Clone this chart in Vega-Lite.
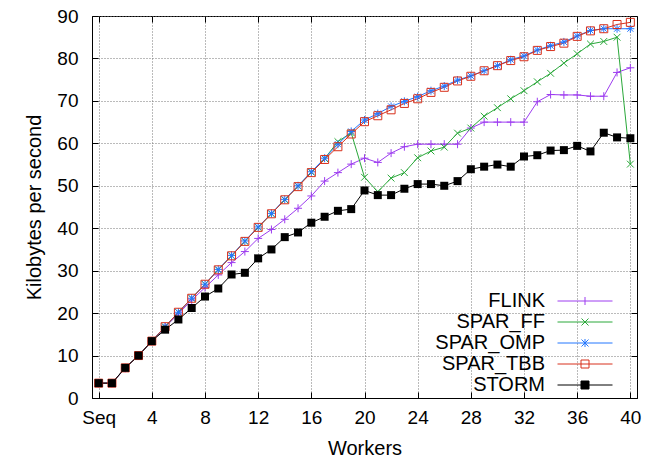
{
  "$schema": "https://vega.github.io/schema/vega-lite/v6.json",
  "width": 545,
  "height": 382,
  "autosize": "none",
  "padding": {"left": 92, "top": 16, "right": 15, "bottom": 63},
  "background": "white",
  "config": {
    "font": "Liberation Sans",
    "view": {"stroke": "black", "strokeWidth": 1},
    "axis": {
      "domainColor": "black", "tickColor": "black", "labelColor": "black", "titleColor": "black",
      "gridColor": "#777", "gridDash": [1, 2], "gridOpacity": 1, "gridWidth": 1,
      "labelFontSize": 19, "titleFontSize": 20, "titleFontWeight": "normal",
      "labelFont": "Liberation Sans", "titleFont": "Liberation Sans", "tickSize": -6
    }
  },
  "data": {"values": [
    {"w":0,"s":"FLINK","v":3.5},{"w":1,"s":"FLINK","v":3.5},{"w":2,"s":"FLINK","v":7.0},{"w":3,"s":"FLINK","v":10.0},{"w":4,"s":"FLINK","v":13.4},{"w":5,"s":"FLINK","v":16.7},{"w":6,"s":"FLINK","v":19.8},{"w":7,"s":"FLINK","v":23.1},{"w":8,"s":"FLINK","v":26.0},{"w":9,"s":"FLINK","v":29.0},{"w":10,"s":"FLINK","v":31.9},{"w":11,"s":"FLINK","v":34.5},{"w":12,"s":"FLINK","v":37.6},{"w":13,"s":"FLINK","v":39.7},{"w":14,"s":"FLINK","v":42.1},{"w":15,"s":"FLINK","v":44.7},{"w":16,"s":"FLINK","v":47.6},{"w":17,"s":"FLINK","v":51.1},{"w":18,"s":"FLINK","v":53.1},{"w":19,"s":"FLINK","v":55.1},{"w":20,"s":"FLINK","v":56.5},{"w":21,"s":"FLINK","v":55.5},{"w":22,"s":"FLINK","v":57.7},{"w":23,"s":"FLINK","v":59.2},{"w":24,"s":"FLINK","v":59.8},{"w":25,"s":"FLINK","v":59.8},{"w":26,"s":"FLINK","v":59.8},{"w":27,"s":"FLINK","v":59.8},{"w":28,"s":"FLINK","v":63.6},{"w":29,"s":"FLINK","v":65.0},{"w":30,"s":"FLINK","v":65.0},{"w":31,"s":"FLINK","v":65.0},{"w":32,"s":"FLINK","v":65.0},{"w":33,"s":"FLINK","v":69.8},{"w":34,"s":"FLINK","v":71.5},{"w":35,"s":"FLINK","v":71.4},{"w":36,"s":"FLINK","v":71.4},{"w":37,"s":"FLINK","v":71.1},{"w":38,"s":"FLINK","v":71.1},{"w":39,"s":"FLINK","v":76.7},{"w":40,"s":"FLINK","v":77.8},
    {"w":0,"s":"SPAR_FF","v":3.5},{"w":1,"s":"SPAR_FF","v":3.5},{"w":2,"s":"SPAR_FF","v":7.1},{"w":3,"s":"SPAR_FF","v":10.0},{"w":4,"s":"SPAR_FF","v":13.4},{"w":5,"s":"SPAR_FF","v":16.8},{"w":6,"s":"SPAR_FF","v":20.2},{"w":7,"s":"SPAR_FF","v":23.5},{"w":8,"s":"SPAR_FF","v":26.8},{"w":9,"s":"SPAR_FF","v":30.2},{"w":10,"s":"SPAR_FF","v":33.5},{"w":11,"s":"SPAR_FF","v":36.9},{"w":12,"s":"SPAR_FF","v":40.2},{"w":13,"s":"SPAR_FF","v":43.4},{"w":14,"s":"SPAR_FF","v":46.7},{"w":15,"s":"SPAR_FF","v":49.9},{"w":16,"s":"SPAR_FF","v":53.2},{"w":17,"s":"SPAR_FF","v":56.4},{"w":18,"s":"SPAR_FF","v":60.4},{"w":19,"s":"SPAR_FF","v":62.5},{"w":20,"s":"SPAR_FF","v":52.0},{"w":21,"s":"SPAR_FF","v":48.6},{"w":22,"s":"SPAR_FF","v":51.8},{"w":23,"s":"SPAR_FF","v":53.1},{"w":24,"s":"SPAR_FF","v":56.6},{"w":25,"s":"SPAR_FF","v":58.2},{"w":26,"s":"SPAR_FF","v":59.1},{"w":27,"s":"SPAR_FF","v":62.4},{"w":28,"s":"SPAR_FF","v":63.6},{"w":29,"s":"SPAR_FF","v":66.4},{"w":30,"s":"SPAR_FF","v":68.4},{"w":31,"s":"SPAR_FF","v":70.5},{"w":32,"s":"SPAR_FF","v":72.4},{"w":33,"s":"SPAR_FF","v":74.5},{"w":34,"s":"SPAR_FF","v":76.5},{"w":35,"s":"SPAR_FF","v":78.9},{"w":36,"s":"SPAR_FF","v":81.1},{"w":37,"s":"SPAR_FF","v":83.4},{"w":38,"s":"SPAR_FF","v":84.0},{"w":39,"s":"SPAR_FF","v":85.0},{"w":40,"s":"SPAR_FF","v":55.1},
    {"w":0,"s":"SPAR_OMP","v":3.5},{"w":1,"s":"SPAR_OMP","v":3.5},{"w":2,"s":"SPAR_OMP","v":7.1},{"w":3,"s":"SPAR_OMP","v":10.0},{"w":4,"s":"SPAR_OMP","v":13.4},{"w":5,"s":"SPAR_OMP","v":16.8},{"w":6,"s":"SPAR_OMP","v":20.2},{"w":7,"s":"SPAR_OMP","v":23.5},{"w":8,"s":"SPAR_OMP","v":26.8},{"w":9,"s":"SPAR_OMP","v":30.3},{"w":10,"s":"SPAR_OMP","v":33.6},{"w":11,"s":"SPAR_OMP","v":37.0},{"w":12,"s":"SPAR_OMP","v":40.3},{"w":13,"s":"SPAR_OMP","v":43.5},{"w":14,"s":"SPAR_OMP","v":46.8},{"w":15,"s":"SPAR_OMP","v":50.0},{"w":16,"s":"SPAR_OMP","v":53.3},{"w":17,"s":"SPAR_OMP","v":56.5},{"w":18,"s":"SPAR_OMP","v":59.8},{"w":19,"s":"SPAR_OMP","v":62.8},{"w":20,"s":"SPAR_OMP","v":65.5},{"w":21,"s":"SPAR_OMP","v":67.0},{"w":22,"s":"SPAR_OMP","v":68.7},{"w":23,"s":"SPAR_OMP","v":69.9},{"w":24,"s":"SPAR_OMP","v":71.0},{"w":25,"s":"SPAR_OMP","v":72.4},{"w":26,"s":"SPAR_OMP","v":73.5},{"w":27,"s":"SPAR_OMP","v":74.9},{"w":28,"s":"SPAR_OMP","v":75.9},{"w":29,"s":"SPAR_OMP","v":77.1},{"w":30,"s":"SPAR_OMP","v":78.3},{"w":31,"s":"SPAR_OMP","v":79.7},{"w":32,"s":"SPAR_OMP","v":80.6},{"w":33,"s":"SPAR_OMP","v":82.0},{"w":34,"s":"SPAR_OMP","v":83.0},{"w":35,"s":"SPAR_OMP","v":83.9},{"w":36,"s":"SPAR_OMP","v":85.3},{"w":37,"s":"SPAR_OMP","v":86.6},{"w":38,"s":"SPAR_OMP","v":87.0},{"w":39,"s":"SPAR_OMP","v":87.0},{"w":40,"s":"SPAR_OMP","v":87.0},
    {"w":0,"s":"SPAR_TBB","v":3.5},{"w":1,"s":"SPAR_TBB","v":3.5},{"w":2,"s":"SPAR_TBB","v":7.1},{"w":3,"s":"SPAR_TBB","v":10.0},{"w":4,"s":"SPAR_TBB","v":13.4},{"w":5,"s":"SPAR_TBB","v":16.8},{"w":6,"s":"SPAR_TBB","v":20.2},{"w":7,"s":"SPAR_TBB","v":23.5},{"w":8,"s":"SPAR_TBB","v":26.8},{"w":9,"s":"SPAR_TBB","v":30.2},{"w":10,"s":"SPAR_TBB","v":33.5},{"w":11,"s":"SPAR_TBB","v":36.9},{"w":12,"s":"SPAR_TBB","v":40.2},{"w":13,"s":"SPAR_TBB","v":43.4},{"w":14,"s":"SPAR_TBB","v":46.7},{"w":15,"s":"SPAR_TBB","v":49.8},{"w":16,"s":"SPAR_TBB","v":53.1},{"w":17,"s":"SPAR_TBB","v":56.2},{"w":18,"s":"SPAR_TBB","v":59.2},{"w":19,"s":"SPAR_TBB","v":62.2},{"w":20,"s":"SPAR_TBB","v":65.1},{"w":21,"s":"SPAR_TBB","v":66.5},{"w":22,"s":"SPAR_TBB","v":67.9},{"w":23,"s":"SPAR_TBB","v":69.4},{"w":24,"s":"SPAR_TBB","v":70.5},{"w":25,"s":"SPAR_TBB","v":72.0},{"w":26,"s":"SPAR_TBB","v":73.2},{"w":27,"s":"SPAR_TBB","v":74.7},{"w":28,"s":"SPAR_TBB","v":75.8},{"w":29,"s":"SPAR_TBB","v":77.1},{"w":30,"s":"SPAR_TBB","v":78.3},{"w":31,"s":"SPAR_TBB","v":79.5},{"w":32,"s":"SPAR_TBB","v":80.4},{"w":33,"s":"SPAR_TBB","v":81.9},{"w":34,"s":"SPAR_TBB","v":82.8},{"w":35,"s":"SPAR_TBB","v":83.6},{"w":36,"s":"SPAR_TBB","v":85.2},{"w":37,"s":"SPAR_TBB","v":86.5},{"w":38,"s":"SPAR_TBB","v":87.0},{"w":39,"s":"SPAR_TBB","v":88.0},{"w":40,"s":"SPAR_TBB","v":88.5},
    {"w":0,"s":"STORM","v":3.5},{"w":1,"s":"STORM","v":3.5},{"w":2,"s":"STORM","v":7.1},{"w":3,"s":"STORM","v":10.0},{"w":4,"s":"STORM","v":13.4},{"w":5,"s":"STORM","v":16.1},{"w":6,"s":"STORM","v":18.5},{"w":7,"s":"STORM","v":21.2},{"w":8,"s":"STORM","v":23.9},{"w":9,"s":"STORM","v":25.8},{"w":10,"s":"STORM","v":29.1},{"w":11,"s":"STORM","v":29.5},{"w":12,"s":"STORM","v":32.9},{"w":13,"s":"STORM","v":35.0},{"w":14,"s":"STORM","v":37.9},{"w":15,"s":"STORM","v":39.0},{"w":16,"s":"STORM","v":41.3},{"w":17,"s":"STORM","v":42.7},{"w":18,"s":"STORM","v":44.1},{"w":19,"s":"STORM","v":44.5},{"w":20,"s":"STORM","v":48.9},{"w":21,"s":"STORM","v":47.8},{"w":22,"s":"STORM","v":47.8},{"w":23,"s":"STORM","v":49.3},{"w":24,"s":"STORM","v":50.4},{"w":25,"s":"STORM","v":50.4},{"w":26,"s":"STORM","v":50.0},{"w":27,"s":"STORM","v":51.1},{"w":28,"s":"STORM","v":53.9},{"w":29,"s":"STORM","v":54.5},{"w":30,"s":"STORM","v":55.0},{"w":31,"s":"STORM","v":54.5},{"w":32,"s":"STORM","v":56.9},{"w":33,"s":"STORM","v":57.2},{"w":34,"s":"STORM","v":58.3},{"w":35,"s":"STORM","v":58.4},{"w":36,"s":"STORM","v":59.4},{"w":37,"s":"STORM","v":58.1},{"w":38,"s":"STORM","v":62.5},{"w":39,"s":"STORM","v":61.4},{"w":40,"s":"STORM","v":61.2}
  ]},
  "layer": [
    {
      "encoding": {
        "x": {
          "field": "w", "type": "quantitative",
          "scale": {"domain": [-0.5, 40.5], "nice": false, "zero": false},
          "axis": {
            "title": "Workers", "values": [0, 4, 8, 12, 16, 20, 24, 28, 32, 36, 40],
            "labelExpr": "datum.value == 0 ? 'Seq' : datum.label",
            "grid": true, "labelFlush": false, "labelPadding": 16, "titlePadding": 11
          }
        },
        "y": {
          "field": "v", "type": "quantitative",
          "scale": {"domain": [0, 90], "nice": false},
          "axis": {
            "title": "Kilobytes per second", "values": [0, 10, 20, 30, 40, 50, 60, 70, 80, 90],
            "grid": true, "labelFlush": false, "labelPadding": 20, "titlePadding": 12
          }
        },
        "color": {
          "field": "s", "type": "nominal",
          "scale": {
            "domain": ["FLINK", "SPAR_FF", "SPAR_OMP", "SPAR_TBB", "STORM"],
            "range": ["#9d3cf0", "#2aa83a", "#2277ff", "#d8301c", "#000000"]
          },
          "legend": {
            "orient": "none", "legendX": 483, "legendY": 275, "padding": 0,
            "title": null, "labelFontSize": 20, "labelFont": "Liberation Sans", "labelColor": "black",
            "labelAlign": "right", "labelOffset": -50, "rowPadding": 1,
            "symbolSize": 100, "symbolStrokeWidth": 1,
            "encode": {
              "symbols": {
                "enter": {
                  "shape": {"signal": "datum.value === 'FLINK' ? 'M-5.5,0L5.5,0M0,-0.8L0,0.8' : datum.value === 'SPAR_FF' ? 'M-5.5,0L5.5,0M-0.7,-0.7L0.7,0.7M-0.7,0.7L0.7,-0.7' : datum.value === 'SPAR_OMP' ? 'M-5.5,0L5.5,0M-0.7,-0.7L0.7,0.7M-0.7,0.7L0.7,-0.7M0,-0.8L0,0.8' : 'M-5.5,0L5.5,0M-0.8,-0.8L0.8,-0.8L0.8,0.8L-0.8,0.8Z'"}
                },
                "update": {
                  "shape": {"signal": "datum.value === 'FLINK' ? 'M-5.5,0L5.5,0M0,-0.8L0,0.8' : datum.value === 'SPAR_FF' ? 'M-5.5,0L5.5,0M-0.7,-0.7L0.7,0.7M-0.7,0.7L0.7,-0.7' : datum.value === 'SPAR_OMP' ? 'M-5.5,0L5.5,0M-0.7,-0.7L0.7,0.7M-0.7,0.7L0.7,-0.7M0,-0.8L0,0.8' : 'M-5.5,0L5.5,0M-0.8,-0.8L0.8,-0.8L0.8,0.8L-0.8,0.8Z'"},
                  "fillOpacity": {"signal": "datum.value === 'STORM' ? 1 : 0"},
                  "stroke": {"scale": "color", "field": "value"},
                  "size": {"value": 100},
                  "strokeWidth": {"value": 1},
                  "opacity": {"value": 1}
                }
              }
            }
          }
        }
      },
      "layer": [
        {"mark": {"type": "line", "strokeWidth": 1}},
        {"transform": [{"filter": "datum.s === 'FLINK'"}], "mark": {"type": "point", "filled": false, "size": 64, "strokeWidth": 1, "opacity": 1, "shape": "M-1,0L1,0M0,-1L0,1"}},
        {"transform": [{"filter": "datum.s === 'SPAR_FF'"}], "mark": {"type": "point", "filled": false, "size": 64, "strokeWidth": 1, "opacity": 1, "shape": "M-0.85,-0.85L0.85,0.85M-0.85,0.85L0.85,-0.85"}},
        {"transform": [{"filter": "datum.s === 'SPAR_OMP'"}], "mark": {"type": "point", "filled": false, "size": 64, "strokeWidth": 1, "opacity": 1, "shape": "M-1,0L1,0M0,-1L0,1M-0.75,-0.75L0.75,0.75M-0.75,0.75L0.75,-0.75"}},
        {"transform": [{"filter": "datum.s === 'SPAR_TBB'"}], "mark": {"type": "point", "filled": false, "size": 64, "strokeWidth": 1, "opacity": 1, "shape": "square"}},
        {"transform": [{"filter": "datum.s === 'STORM'"}], "mark": {"type": "point", "filled": true, "size": 64, "opacity": 1, "shape": "square"}}
      ]
    },
    {
      "mark": {"type": "point", "opacity": 0},
      "encoding": {
        "x": {
          "field": "w", "type": "quantitative",
          "scale": {"domain": [-0.5, 40.5], "nice": false, "zero": false},
          "axis": {"orient": "top", "labels": false, "title": null, "grid": false, "domain": false, "values": [0, 4, 8, 12, 16, 20, 24, 28, 32, 36, 40]}
        },
        "y": {
          "field": "v", "type": "quantitative",
          "scale": {"domain": [0, 90], "nice": false},
          "axis": {"orient": "right", "labels": false, "title": null, "grid": false, "domain": false, "values": [0, 10, 20, 30, 40, 50, 60, 70, 80, 90]}
        }
      }
    }
  ],
  "resolve": {"axis": {"x": "independent", "y": "independent"}}
}
